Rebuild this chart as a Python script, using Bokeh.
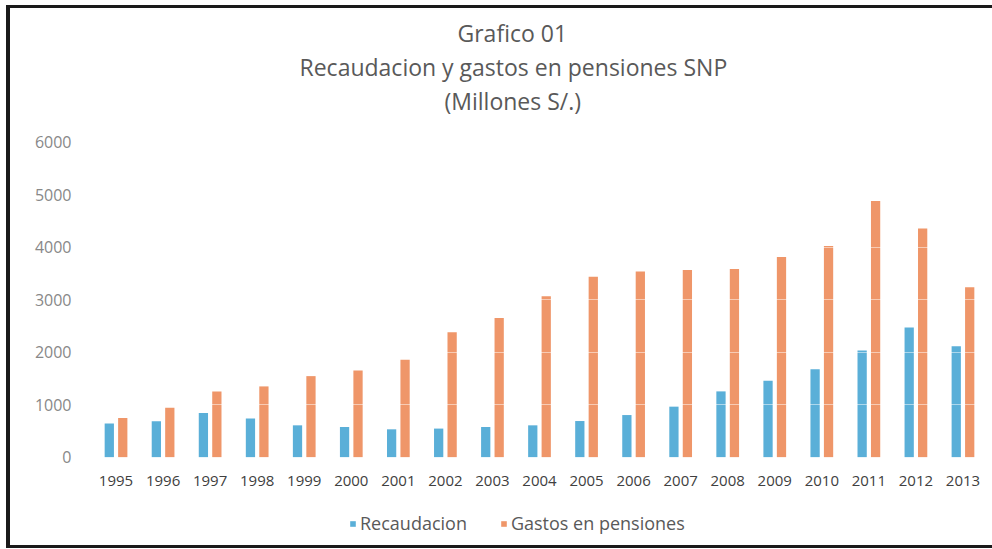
from bokeh.plotting import figure
from bokeh.models import FactorRange, Range1d, Legend, LegendItem, Title, ColumnDataSource
from bokeh.transform import dodge
from bokeh.embed import file_html
from bokeh.resources import INLINE

years = [str(y) for y in range(1995, 2014)]
recaudacion = [641, 684, 842, 736, 608, 576, 532, 546, 576, 608, 690, 804, 964, 1255, 1458, 1679, 2034, 2471, 2116]
gastos = [747, 945, 1255, 1350, 1546, 1654, 1857, 2382, 2656, 3067, 3441, 3542, 3568, 3587, 3816, 4025, 4886, 4359, 3238]
y_ticks = [0, 1000, 2000, 3000, 4000, 5000, 6000]

BLUE = "#5aafd8"
ORANGE = "#ef9669"
FONT = "Open Sans"

src = ColumnDataSource(dict(year=years, rec=recaudacion, gas=gastos))

p = figure(width=986, height=543,
           x_range=FactorRange(*years, range_padding=0),
           y_range=Range1d(-1797, 6495),
           output_backend="svg", toolbar_location=None,
           title="Grafico 01",
           min_border_left=82, min_border_right=10,
           min_border_top=108, min_border_bottom=0)

p.styles = {"margin-left": "6px",
            "margin-top": "5px",
            "border-top": "3px solid #1a1a1a",
            "border-left": "4px solid #1a1a1a",
            "border-bottom": "3px solid #1a1a1a",
            "box-sizing": "border-box"}

r1 = p.vbar(x=dodge('year', -0.143, range=p.x_range), top='rec', width=0.197,
            source=src, fill_color=BLUE, line_color=None)
r2 = p.vbar(x=dodge('year', 0.143, range=p.x_range), top='gas', width=0.197,
            source=src, fill_color=ORANGE, line_color=None)

# titles (first added sits nearest the plot)
def style_title(t, offset):
    t.align = "left"
    t.offset = offset
    t.text_font = FONT
    t.text_font_size = "23px"
    t.text_font_style = "normal"
    t.text_color = "#595959"
    t.standoff = 0

style_title(p.title, 365)
t3 = Title(text="(Millones S/.)")
style_title(t3, 352)
p.add_layout(t3, "above")
t2 = Title(text="Recaudacion y gastos en pensiones SNP")
style_title(t2, 207)
p.add_layout(t2, "above")

# axes
p.yaxis.ticker = y_ticks
p.yaxis.axis_line_color = None
p.yaxis.major_tick_line_color = None
p.yaxis.minor_tick_line_color = None
p.yaxis.major_tick_out = 0
p.yaxis.major_label_standoff = 21
p.yaxis.major_label_text_font = FONT
p.yaxis.major_label_text_font_size = "16px"
p.yaxis.major_label_text_color = "#888888"

p.xaxis.fixed_location = 0
p.xaxis.axis_line_color = None
p.xaxis.major_tick_line_color = None
p.xaxis.major_tick_out = 0
p.xaxis.major_label_standoff = 19
p.xaxis.major_label_text_font = FONT
p.xaxis.major_label_text_font_size = "15px"
p.xaxis.major_label_text_color = "#404040"

p.xgrid.grid_line_color = None
p.ygrid.ticker = y_ticks
p.ygrid.grid_line_color = "#ffffff"
p.ygrid.grid_line_alpha = 0.5
p.ygrid.level = "overlay"
p.outline_line_color = None

legend = Legend(items=[LegendItem(label="Recaudacion", renderers=[r1]),
                       LegendItem(label="Gastos en pensiones", renderers=[r2])],
                location=(257, 16), orientation="horizontal",
                glyph_width=7, glyph_height=7, spacing=33, label_standoff=4,
                padding=0, margin=0, border_line_color=None,
                background_fill_alpha=0,
                label_text_font=FONT, label_text_font_size="18px",
                label_text_color="#595959")
p.add_layout(legend)

open("out.html", "w").write(file_html(p, INLINE))
